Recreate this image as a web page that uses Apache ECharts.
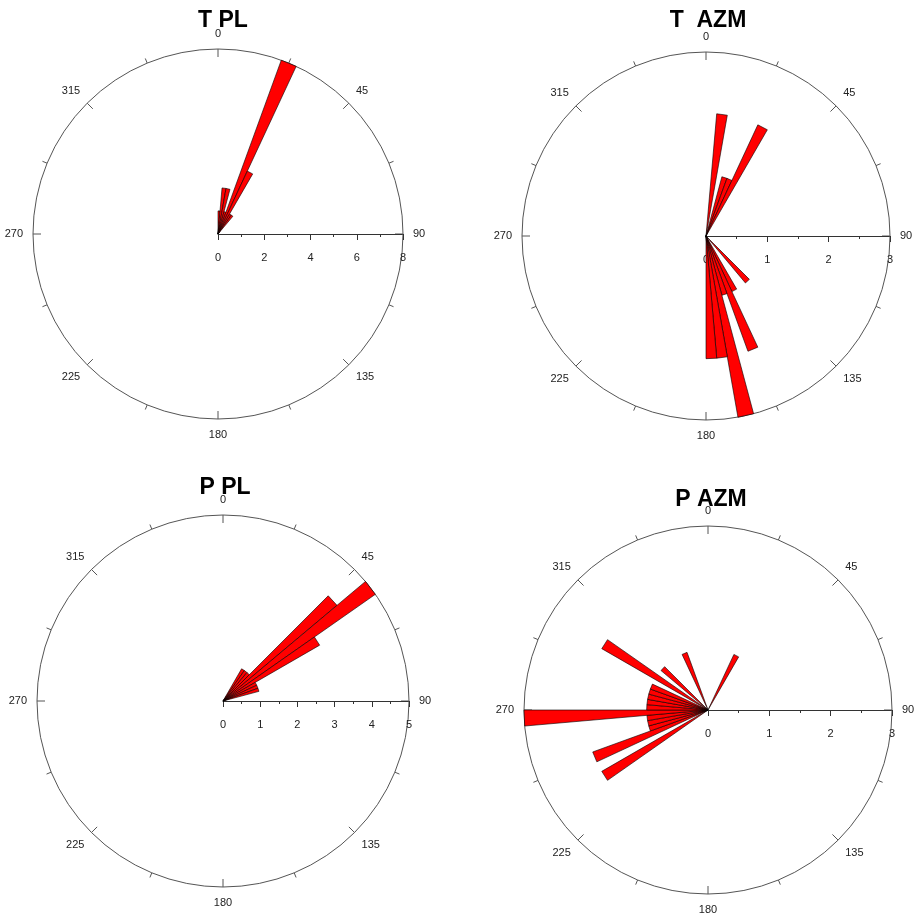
<!DOCTYPE html>
<html>
<head>
<meta charset="utf-8">
<script src="https://cdn.jsdelivr.net/npm/echarts@6/dist/echarts.min.js"></script>
<style>
html, body { margin: 0; padding: 0; background: #fff; }
#main { width: 917px; height: 916px; }
</style>
</head>
<body>
<div id="main"></div>
<script>
// bin width in degrees, bins are given by their start angle (compass, clockwise from north)
var BIN = 5;

var tPlStart = [0, 5, 10, 15, 20, 25, 30, 35];
var tPlCount = [1, 2, 2, 1, 8, 3, 1, 1];

var tAzmStart = [5, 15, 20, 25, 135, 150, 155, 160, 165, 170, 175];
var tAzmCount = [2, 1, 1, 2, 1, 1, 2, 1, 3, 2, 2];

var pPlStart = [30, 35, 40, 45, 50, 55, 60, 65, 70];
var pPlCount = [1, 1, 1, 4, 5, 3, 1, 1, 1];

var pAzmStart = [25, 235, 245, 250, 255, 260, 265, 270, 275, 280, 285, 290, 300, 310, 335];
var pAzmCount = [1, 2, 2, 1, 1, 1, 3, 1, 1, 1, 1, 1, 2, 1, 1];

var titles = ['T PL', 'T  AZM', 'P PL', 'P AZM'];
var radiusMax = [8, 3, 5, 3];
var radiusStep = [2, 1, 1, 1];

var starts = [tPlStart, tAzmStart, pPlStart, pAzmStart];
var counts = [tPlCount, tAzmCount, pPlCount, pAzmCount];

// layout
var centers = [[218, 234], [706, 236], [223, 701], [708, 710]];
var radii = [185, 184, 186, 184];
var titlePos = [[218, 4], [703, 4], [220, 471], [706, 483]];

var FONT = 'Liberation Sans, Arial, sans-serif';

// compass angle -> axis value (axis starts at east, runs clockwise)
function toAxis(c) {
	return (c + 270) % 360;
}

function renderWedge(params, api) {
	var r = api.value(0);
	var a0 = api.value(1);
	var c = api.coord([0, toAxis(a0)]);
	var p1 = api.coord([r, toAxis(a0)]);
	var p2 = api.coord([r, toAxis(a0 + BIN)]);
	return {
		type: 'polygon',
		shape: { points: [c, p1, p2] },
		style: { fill: '#ff0000', stroke: '#000', lineWidth: 0.6 }
	};
}

var polar = [], angleAxis = [], radiusAxis = [], series = [], title = [];

for (var i = 0; i < 4; i++) {
	polar.push({ center: centers[i], radius: radii[i] });

	angleAxis.push({
		polarIndex: i,
		type: 'value',
		min: 0,
		max: 360,
		interval: 45,
		startAngle: 0,
		clockwise: true,
		axisLine: { lineStyle: { color: '#555', width: 1 } },
		axisTick: { inside: true, length: 8, lineStyle: { color: '#555' } },
		// minor ticks are drawn outward, so a negative length turns them in
		minorTick: { show: true, splitNumber: 2, length: -5, lineStyle: { color: '#555' } },
		axisLabel: {
			margin: 10, color: '#222', fontSize: 11, fontFamily: FONT,
			formatter: function (v) { return v === 360 ? '' : String((v + 90) % 360); }
		},
		splitLine: { show: false },
		minorSplitLine: { show: false }
	});

	// radius axis always puts ticks/labels above when it points east; negative values flip them below
	radiusAxis.push({
		polarIndex: i,
		type: 'value',
		min: 0,
		max: radiusMax[i],
		interval: radiusStep[i],
		axisLine: { lineStyle: { color: '#333', width: 1 } },
		axisTick: { length: -6, lineStyle: { color: '#333' } },
		minorTick: { show: true, splitNumber: 2, length: -3, lineStyle: { color: '#333' } },
		axisLabel: { margin: -29, color: '#222', fontSize: 11, fontFamily: FONT },
		splitLine: { show: false },
		minorSplitLine: { show: false }
	});

	series.push({
		type: 'custom',
		coordinateSystem: 'polar',
		polarIndex: i,
		silent: true,
		data: [],
		renderItem: renderWedge
	});

	title.push({
		text: titles[i],
		left: titlePos[i][0],
		top: titlePos[i][1],
		textAlign: 'center',
		textStyle: { fontFamily: FONT, fontWeight: 'bold', fontSize: 23, color: '#000' }
	});
}

series.forEach(function (s, i) {
	s.data = starts[i].map(function (st, k) { return [counts[i][k], st]; });
});

var option = {
	backgroundColor: '#fff',
	animation: false,
	title: title,
	polar: polar,
	angleAxis: angleAxis,
	radiusAxis: radiusAxis,
	series: series
};

var myChart = echarts.init(document.getElementById('main'));
myChart.setOption(option);
</script>
</body>
</html>
